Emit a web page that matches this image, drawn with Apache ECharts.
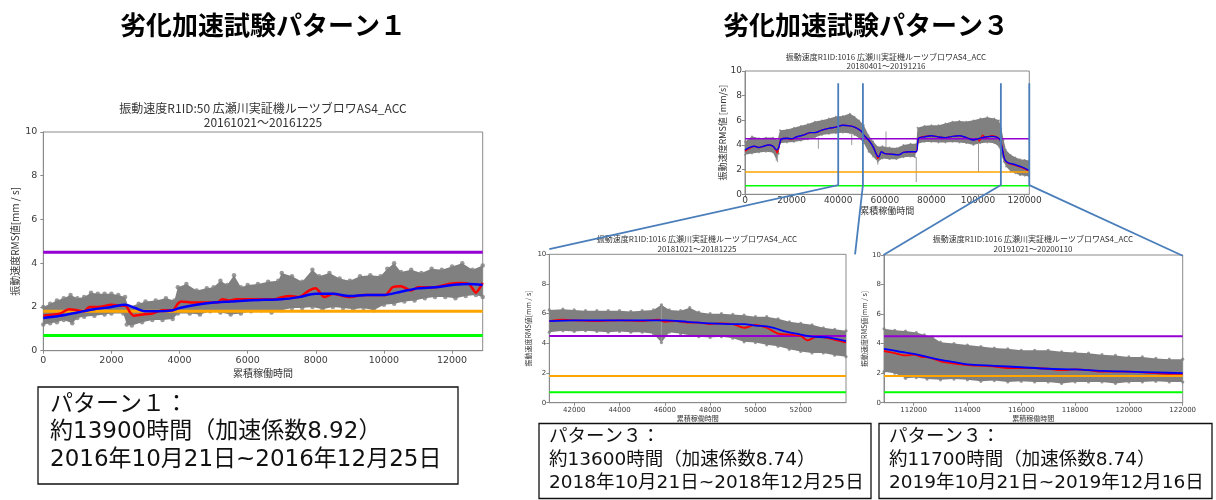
<!DOCTYPE html>
<html>
<head>
<meta charset="utf-8">
<script src="https://cdn.jsdelivr.net/npm/echarts@6/dist/echarts.min.js"></script>
<style>
  html, body { margin: 0; padding: 0; background: #fff; }
  #main { width: 1216px; height: 500px; }
</style>
</head>
<body>
<div id="main"></div>
<script>
// ---- reference levels (mm/s) ----
const levelValues = [4.5, 1.8, 0.7];
const levelColors = ['#9400d3', '#ffa500', '#00ff00'];

// ---- tick labels ----
const yTicks = [0, 2, 4, 6, 8, 10];
const p1Ticks = [0, 2000, 4000, 6000, 8000, 10000, 12000];
const p2Ticks = [0, 20000, 40000, 60000, 80000, 100000, 120000];
const p3Ticks = [42000, 44000, 46000, 48000, 50000, 52000];
const p4Ticks = [112000, 114000, 116000, 118000, 120000, 122000];

// ---- pattern 1 : 20161021-20161225 ----
const p1Upper = [[0,2.0],[200,2.15],[400,2.3],[600,2.4],[800,2.55],[1000,2.4],[1200,2.45],[1400,2.65],[1600,2.6],[1800,2.6],[2000,2.6],[2200,2.55],[2400,2.45],[2500,2.0],[2800,2.15],[3000,2.25],[3300,2.3],[3600,2.4],[3850,2.3],[3950,2.9],[4200,3.05],[4500,2.75],[4800,2.85],[5000,2.9],[5200,3.2],[5400,3.0],[5600,3.45],[5800,2.9],[6000,3.0],[6300,3.05],[6600,3.15],[6900,3.2],[7000,3.55],[7300,3.4],[7600,3.15],[7900,3.7],[8100,3.4],[8400,3.55],[8700,3.3],[9000,3.2],[9300,3.4],[9600,3.45],[9900,3.4],[10100,3.75],[10300,4.0],[10500,3.6],[10800,3.7],[11100,3.55],[11400,3.75],[11700,3.7],[12000,3.85],[12300,4.0],[12600,3.7],[12900,3.9]];
const p1Lower = [[0,1.2],[200,1.25],[400,1.3],[600,1.4],[850,1.25],[1000,1.5],[1200,1.55],[1500,1.6],[1800,1.65],[2000,1.7],[2350,1.7],[2450,1.2],[2600,1.15],[2900,1.3],[3200,1.4],[3500,1.4],[3800,1.45],[3950,1.7],[4300,1.7],[4600,1.65],[4900,1.8],[5200,1.75],[5500,1.65],[5800,1.7],[6100,1.8],[6400,1.85],[6700,1.75],[7000,1.85],[7300,1.95],[7600,1.95],[7900,2.0],[8200,1.9],[8500,2.0],[8800,1.95],[9100,1.9],[9400,1.95],[9700,1.85],[10000,2.1],[10300,2.15],[10600,2.25],[10900,2.3],[11200,2.4],[11500,2.45],[11800,2.45],[12100,2.4],[12400,2.5],[12700,2.55],[12900,2.45]];
const p1Red = [[0,1.6],[300,1.65],[500,1.7],[750,1.9],[1000,1.85],[1200,1.8],[1350,2.0],[1600,2.0],[2000,2.1],[2300,2.05],[2420,2.05],[2550,1.75],[2650,1.6],[2900,1.65],[3200,1.7],[3500,1.85],[3800,1.85],[3950,2.15],[4050,2.25],[4400,2.2],[4800,2.2],[5100,2.2],[5250,2.35],[5450,2.3],[5650,2.35],[6000,2.35],[6500,2.35],[6800,2.35],[7000,2.45],[7250,2.5],[7500,2.45],[7800,2.75],[8000,2.85],[8250,2.45],[8500,2.6],[9000,2.45],[9400,2.55],[9800,2.55],[10050,2.55],[10250,2.9],[10500,2.95],[10800,2.75],[11000,2.9],[11500,2.9],[11900,3.05],[12200,3.1],[12500,3.05],[12700,2.65],[12900,3.1]];
const p1Blue = [[0,1.5],[500,1.6],[1000,1.75],[1500,1.9],[2000,2.0],[2400,2.1],[2700,1.95],[3000,1.8],[3500,1.8],[3800,1.85],[4000,1.95],[4500,2.1],[5000,2.2],[5500,2.25],[6000,2.3],[6500,2.33],[7000,2.35],[7500,2.45],[8000,2.6],[8500,2.6],[9000,2.5],[9500,2.55],[10000,2.55],[10500,2.7],[11000,2.85],[11500,2.9],[12000,3.0],[12500,3.05],[12900,3.0]];
const p1Spikes = [];

// ---- pattern 3 overview : 20180401-20191216 ----
const p2Upper = [[0,4.27],[3000,4.7],[6000,4.55],[9000,4.6],[12000,4.6],[14000,4.4],[15000,5.2],[18000,5.25],[21000,5.4],[24000,5.55],[27000,5.7],[30000,5.9],[33000,6.0],[36000,6.15],[39000,6.3],[42000,6.35],[45000,6.55],[47000,6.3],[49000,6.0],[51000,5.6],[53000,4.8],[55000,4.3],[57000,3.85],[59000,3.9],[62000,3.8],[65000,3.75],[68000,4.0],[71000,4.1],[73500,4.1],[74000,5.4],[77000,5.55],[80000,5.6],[83000,5.6],[86000,5.75],[89000,5.9],[92000,5.95],[95000,5.9],[98000,6.0],[101000,6.15],[104000,6.25],[107000,6.15],[109000,6.0],[110000,5.35],[111000,4.4],[112000,3.6],[114000,3.2],[116000,3.0],[118000,2.85],[120000,2.8],[121900,2.75]];
const p2Lower = [[0,3.2],[3000,3.3],[6000,3.4],[9000,3.45],[12000,3.4],[13500,2.8],[14500,3.3],[15000,4.15],[18000,4.2],[21000,4.25],[24000,4.35],[27000,4.45],[30000,4.6],[33000,4.8],[36000,4.9],[39000,4.95],[42000,5.0],[45000,4.95],[47000,4.8],[49000,4.55],[51000,4.15],[53000,3.45],[55000,3.05],[57000,2.65],[59000,2.9],[62000,2.85],[65000,2.85],[68000,3.0],[71000,3.05],[73000,3.0],[74000,4.1],[77000,4.25],[80000,4.25],[83000,4.2],[86000,4.2],[89000,4.25],[92000,4.2],[95000,4.15],[98000,4.0],[101000,4.15],[104000,4.2],[107000,4.15],[109000,3.85],[110000,3.2],[111000,2.65],[112000,2.25],[114000,1.85],[116000,1.7],[118000,1.55],[120000,1.5],[121900,1.45]];
const p2Red = [[0,3.5],[2000,3.75],[4000,3.9],[6000,3.8],[8000,3.9],[10000,4.0],[12000,3.9],[13500,3.5],[13800,3.35],[14500,3.8],[15500,4.45],[18000,4.55],[20000,4.45],[22000,4.65],[25000,4.8],[28000,5.0],[30000,5.0],[33000,5.2],[36000,5.35],[39000,5.45],[42000,5.6],[45000,5.55],[47000,5.45],[49000,5.25],[50000,5.1],[51000,4.8],[53000,4.4],[55000,3.85],[56500,3.2],[57000,2.9],[57500,3.05],[58500,3.45],[60000,3.3],[63000,3.25],[66000,3.2],[68000,3.4],[71000,3.45],[73500,3.45],[74500,4.55],[77000,4.7],[80000,4.75],[83000,4.65],[86000,4.6],[89000,4.7],[92000,4.75],[95000,4.6],[98000,4.4],[100000,4.5],[100500,4.3],[102000,4.8],[103000,4.6],[106000,4.75],[108500,4.6],[109800,4.3],[110500,3.6],[111500,2.8],[113000,2.5],[116000,2.35],[119000,2.15],[121900,1.9]];
const p2Blue = [[0,3.6],[2000,3.8],[4000,3.9],[6000,3.8],[8000,3.9],[10000,4.0],[12000,3.9],[13500,3.6],[14500,3.8],[15500,4.45],[18000,4.55],[20000,4.5],[22000,4.65],[25000,4.8],[28000,5.0],[30000,5.0],[33000,5.2],[36000,5.35],[39000,5.45],[42000,5.6],[45000,5.55],[47000,5.45],[49000,5.25],[50000,5.1],[51000,4.8],[53000,4.4],[55000,3.85],[56500,3.2],[57500,3.05],[58500,3.45],[60000,3.3],[63000,3.25],[66000,3.2],[68000,3.4],[71000,3.45],[73500,3.45],[74500,4.55],[77000,4.65],[80000,4.75],[83000,4.65],[86000,4.6],[89000,4.7],[92000,4.75],[95000,4.6],[98000,4.4],[100000,4.5],[103000,4.65],[106000,4.7],[108500,4.6],[109500,4.4],[110500,3.6],[111500,2.8],[113000,2.55],[116000,2.4],[119000,2.2],[121900,1.95]];
const p2Spikes = [[14000,2.6,3.4],[31500,3.7,4.6],[45800,4.0,5.0],[57000,2.4,2.9],[60500,3.8,5.1],[73500,1.0,3.0],[100200,1.8,4.1]];

// ---- pattern 3 : 20181021-20181225 ----
const p3Upper = [[40900,6.25],[41500,6.3],[42000,6.25],[42500,6.2],[43000,6.2],[43500,6.2],[44000,6.2],[44500,6.15],[45000,6.2],[45500,6.25],[45850,6.6],[46200,6.25],[46700,6.2],[47100,6.4],[47500,6.1],[48000,6.0],[48500,6.0],[49000,5.95],[49500,5.9],[50000,5.8],[50500,5.8],[51000,5.65],[51500,5.45],[52000,5.35],[52500,5.25],[53000,5.05],[53500,4.95],[54000,4.85]];
const p3Lower = [[40900,4.75],[41500,4.85],[42000,4.8],[42500,4.85],[43000,4.8],[43500,4.75],[44000,4.8],[44500,4.75],[45000,4.75],[45500,4.65],[45850,4.05],[46200,4.75],[46700,4.65],[47100,4.55],[47500,4.45],[48000,4.4],[48500,4.45],[49000,4.35],[49500,4.1],[50000,4.05],[50500,3.9],[51000,3.8],[51500,3.6],[52000,3.45],[52500,3.35],[53000,3.35],[53500,3.2],[54000,3.1]];
const p3Red = [[40900,5.5],[41500,5.6],[42000,5.55],[43000,5.5],[44000,5.55],[45000,5.5],[45700,5.6],[46000,5.45],[46500,5.5],[47000,5.4],[47500,5.4],[48000,5.3],[48500,5.35],[49000,5.3],[49500,5.05],[50000,5.25],[50500,5.05],[51000,4.65],[51500,4.6],[52000,4.5],[52300,4.2],[52700,4.45],[53200,4.35],[53600,4.2],[54000,4.05]];
const p3Blue = [[40900,5.5],[42000,5.55],[44000,5.55],[46000,5.55],[47000,5.45],[48000,5.35],[49000,5.3],[49500,5.3],[50000,5.2],[50500,5.15],[50900,5.0],[51300,4.8],[51800,4.65],[52500,4.45],[53200,4.4],[54000,4.15]];
const p3Spikes = [[45850,4.05,6.6]];

// ---- pattern 3 : 20191021-20200110 ----
const p4Upper = [[110900,5.0],[111300,4.9],[111700,4.85],[112100,4.75],[112400,4.6],[112700,4.45],[113000,4.1],[113500,4.0],[114000,3.9],[114500,3.8],[115000,3.7],[115500,3.65],[116000,3.55],[116500,3.55],[117000,3.55],[117500,3.45],[118000,3.4],[118500,3.35],[119000,3.25],[119500,3.2],[120000,3.1],[120500,3.1],[121000,3.0],[121500,2.95],[122000,2.95]];
const p4Lower = [[110900,2.1],[111300,2.0],[111700,1.65],[112100,1.7],[112500,1.6],[113000,1.55],[113500,1.6],[114000,1.55],[114500,1.45],[115000,1.5],[115500,1.4],[116000,1.45],[116500,1.4],[117000,1.4],[117500,1.3],[118000,1.4],[118500,1.4],[119000,1.4],[119500,1.3],[120000,1.4],[120500,1.4],[121000,1.45],[121500,1.4],[122000,1.4]];
const p4Red = [[110900,3.5],[111300,3.35],[111700,3.2],[112000,3.25],[112300,3.1],[112600,3.05],[113000,2.8],[113500,2.65],[114000,2.55],[114500,2.5],[115000,2.45],[115500,2.35],[116000,2.35],[116500,2.35],[117000,2.3],[117500,2.2],[118000,2.25],[118500,2.2],[119000,2.1],[119500,2.1],[120000,2.1],[120500,2.05],[121000,2.0],[121500,1.95],[122000,1.95]];
const p4Blue = [[110900,3.65],[111500,3.45],[112000,3.3],[112500,3.1],[113000,2.9],[113500,2.75],[114000,2.6],[115000,2.5],[116000,2.4],[117000,2.3],[118000,2.25],[119000,2.15],[120000,2.1],[121000,2.05],[122000,2.0]];
const p4Spikes = [];

// ---- texts ----
const headingTexts = ['劣化加速試験パターン１', '劣化加速試験パターン３'];
const chartTitles = [
  ['振動速度R1ID:50 広瀬川実証機ルーツブロワAS4_ACC', '20161021～20161225'],
  ['振動速度R1ID:1016 広瀬川実証機ルーツブロワAS4_ACC', '20180401～20191216'],
  ['振動速度R1ID:1016 広瀬川実証機ルーツブロワAS4_ACC', '20181021～20181225'],
  ['振動速度R1ID:1016 広瀬川実証機ルーツブロワAS4_ACC', '20191021～20200110']
];
const yNames = ['振動速度RMS値[mm / s]', '振動速度RMS値 [mm/s]', '振動速度RMS値[mm / s]', '振動速度RMS値[mm / s]'];
const xName = '累積稼働時間';
const noteTexts = [
  ['パターン１：', '約13900時間（加速係数8.92）', '2016年10月21日~2016年12月25日'],
  ['パターン３：', '約13600時間（加速係数8.74）', '2018年10月21日~2018年12月25日'],
  ['パターン３：', '約11700時間（加速係数8.74）', '2019年10月21日~2019年12月16日']
];

// ---- panel layout and styling ----
const CJK = '"Noto Sans CJK JP", sans-serif';
const panels = [
  { grid: {left: 43.3, top: 132, width: 439.4, height: 218.7}, xMin: 0, xMax: 12900, ticks: p1Ticks, interval: 2000,
    tickFont: 9.5, nameFont: 10, xGap: 18, yGap: 23, lblMargin: 5, ylblMargin: 6,
    lineW: 2.5, levelW: 3, dot: 4.5,
    upper: p1Upper, lower: p1Lower, red: p1Red, blue: p1Blue, spikes: p1Spikes,
    title: {x: 263, y: 101, size: 12, lh: 14} },
  { grid: {left: 745, top: 71, width: 284.3, height: 123.3}, xMin: 0, xMax: 122000, ticks: p2Ticks, interval: 20000,
    tickFont: 9, nameFont: 9, xGap: 9, yGap: 12, lblMargin: 2, ylblMargin: 3,
    lineW: 1.4, levelW: 1.5, dot: 1.8,
    upper: p2Upper, lower: p2Lower, red: p2Red, blue: p2Blue, spikes: p2Spikes,
    title: {x: 886, y: 52, size: 8, lh: 9} },
  { grid: {left: 549.3, top: 254.3, width: 296.7, height: 148.4}, xMin: 40900, xMax: 54000, ticks: p3Ticks,
    tickFont: 7, nameFont: 7, xGap: 12, yGap: 17, lblMargin: 4, ylblMargin: 3,
    lineW: 1.8, levelW: 2, dot: 3.2,
    upper: p3Upper, lower: p3Lower, red: p3Red, blue: p3Blue, spikes: p3Spikes,
    title: {x: 697, y: 234.5, size: 8, lh: 9.5} },
  { grid: {left: 884, top: 255, width: 298.7, height: 147.7}, xMin: 110900, xMax: 122000, ticks: p4Ticks,
    tickFont: 7, nameFont: 7, xGap: 12, yGap: 15, lblMargin: 4, ylblMargin: 3,
    lineW: 1.8, levelW: 2, dot: 3.2,
    upper: p4Upper, lower: p4Lower, red: p4Red, blue: p4Blue, spikes: p4Spikes,
    title: {x: 1033, y: 234.5, size: 8, lh: 9.5} }
];

const frameColor = '#8a8a8a';
const scatterGray = '#808080';
const plainNumber = v => String(v);

const grids = [], xAxes = [], yAxes = [], series = [], graphics = [];

panels.forEach((p, i) => {
  grids.push(Object.assign({show: true, borderColor: frameColor, borderWidth: 1, backgroundColor: 'transparent'}, p.grid));

  const xAxis = {
    type: 'value', gridIndex: i, min: p.xMin, max: p.xMax,
    axisLine: {show: true, onZero: false, lineStyle: {color: frameColor}},
    axisTick: {show: true, length: 3, customValues: p.ticks, lineStyle: {color: frameColor}},
    axisLabel: {customValues: p.ticks, formatter: plainNumber, fontSize: p.tickFont, color: '#3a3a3a', margin: p.lblMargin, fontFamily: 'DejaVu Sans'},
    splitLine: {show: false},
    name: xName, nameLocation: 'middle', nameGap: p.xGap,
    nameTextStyle: {fontSize: p.nameFont, color: '#333', fontFamily: CJK}
  };
  if (p.interval) xAxis.interval = p.interval;
  xAxes.push(xAxis);

  yAxes.push({
    type: 'value', gridIndex: i, min: 0, max: 10, interval: 2,
    axisLine: {show: true, onZero: false, lineStyle: {color: frameColor}},
    axisTick: {show: true, length: 3, customValues: yTicks, lineStyle: {color: frameColor}},
    axisLabel: {customValues: yTicks, formatter: plainNumber, fontSize: p.tickFont, color: '#3a3a3a', margin: p.ylblMargin, fontFamily: 'DejaVu Sans'},
    splitLine: {show: false},
    name: yNames[i], nameLocation: 'middle', nameGap: p.yGap,
    nameTextStyle: {fontSize: p.nameFont, color: '#333', fontFamily: CJK}
  });

  // dense measurement cloud: envelope polygon
  series.push({
    type: 'custom', xAxisIndex: i, yAxisIndex: i, silent: true, z: 1,
    data: [[p.xMin, 0]],
    renderItem: (params, api) => {
      const pts = p.upper.map(d => api.coord(d))
        .concat(p.lower.slice().reverse().map(d => api.coord(d)));
      return {type: 'polygon', shape: {points: pts}, style: {fill: scatterGray}};
    }
  });
  // individual readings along the cloud edges
  series.push({
    type: 'scatter', xAxisIndex: i, yAxisIndex: i, silent: true, z: 1,
    symbol: 'circle', symbolSize: p.dot,
    itemStyle: {color: scatterGray},
    data: p.upper.concat(p.lower)
  });
  // isolated outlier readings
  if (p.spikes.length) {
    series.push({
      type: 'custom', xAxisIndex: i, yAxisIndex: i, silent: true, z: 1,
      data: p.spikes,
      encode: {x: 0, y: [1, 2]},
      renderItem: (params, api) => {
        const a = api.coord([api.value(0), api.value(1)]);
        const b = api.coord([api.value(0), api.value(2)]);
        return {type: 'line', shape: {x1: a[0], y1: a[1], x2: b[0], y2: b[1]},
                style: {stroke: '#9a9a9a', lineWidth: 1}};
      }
    });
  }
  // reference levels
  levelValues.forEach((v, k) => {
    series.push({
      type: 'line', xAxisIndex: i, yAxisIndex: i, silent: true, z: 2,
      symbol: 'none', lineStyle: {color: levelColors[k], width: p.levelW},
      data: [[p.xMin, v], [p.xMax, v]]
    });
  });
  // moving averages
  series.push({
    type: 'line', xAxisIndex: i, yAxisIndex: i, silent: true, z: 3,
    symbol: 'none', smooth: 0.2, lineStyle: {color: '#ff0000', width: p.lineW},
    data: p.red
  });
  series.push({
    type: 'line', xAxisIndex: i, yAxisIndex: i, silent: true, z: 4,
    symbol: 'none', smooth: 0.3, lineStyle: {color: '#0000ff', width: p.lineW},
    data: p.blue
  });

  // chart title
  graphics.push({
    type: 'text', x: p.title.x, y: p.title.y, silent: true,
    style: {text: chartTitles[i].join('\n'), align: 'center', verticalAlign: 'top',
            fontSize: p.title.size, lineHeight: p.title.lh, fontFamily: CJK, fill: '#333'}
  });
});

// section headings
[[263, 25], [866, 25]].forEach((pos, k) => {
  graphics.push({
    type: 'text', x: pos[0], y: pos[1], silent: true,
    style: {text: headingTexts[k], align: 'center', verticalAlign: 'middle',
            fontSize: 26, fontWeight: 'bold', fontFamily: CJK, fill: '#000'}
  });
});

// note boxes
const noteBoxes = [
  {x: 38, y: 387, w: 420, h: 97, tx: 50, ty: 391, size: 23, lh: 27.5},
  {x: 539, y: 423.5, w: 332, h: 75, tx: 549, ty: 425.5, size: 18.5, lh: 23},
  {x: 879, y: 423.5, w: 333, h: 75, tx: 889, ty: 425.5, size: 18.5, lh: 23}
];
noteBoxes.forEach((b, k) => {
  graphics.push({
    type: 'rect', silent: true, shape: {x: b.x, y: b.y, width: b.w, height: b.h},
    style: {fill: '#fff', stroke: '#111', lineWidth: 1.3}
  });
  graphics.push({
    type: 'text', x: b.tx, y: b.ty, silent: true,
    style: {text: noteTexts[k].join('\n'), align: 'left', verticalAlign: 'top',
            fontSize: b.size, lineHeight: b.lh, fontFamily: '"DejaVu Sans", "Noto Sans CJK JP", sans-serif', fill: '#111'}
  });
});

const chart = echarts.init(document.getElementById('main'), null, {renderer: 'canvas'});
chart.setOption({
  animation: false,
  backgroundColor: '#fff',
  grid: grids, xAxis: xAxes, yAxis: yAxes, series: series, graphic: graphics
});

// zoom-range connectors from the overview to the two detail panels
const toPx = (g, v) => chart.convertToPixel({gridIndex: g}, v);
const connectors = [
  {at: 40000, target: [2, [40900, 10.35]]},
  {at: 50600, target: [2, [54400, 10.0]]},
  {at: 109800, target: [3, [110880, 10.0]]},
  {at: 122000, target: [3, [122000, 9.95]]}
];
const connectorGraphics = connectors.map((c, k) => {
  const top = toPx(1, [c.at, 9.0]);
  const bottom = toPx(1, [c.at, 0.75]);
  const end = toPx(c.target[0], c.target[1]);
  return {
    type: 'polyline', id: 'connector' + k, silent: true, z: 100,
    shape: {points: [top, bottom, end]},
    style: {stroke: '#4a7ebb', lineWidth: 1.8, fill: null}
  };
});
chart.setOption({graphic: connectorGraphics});
</script>
</body>
</html>
